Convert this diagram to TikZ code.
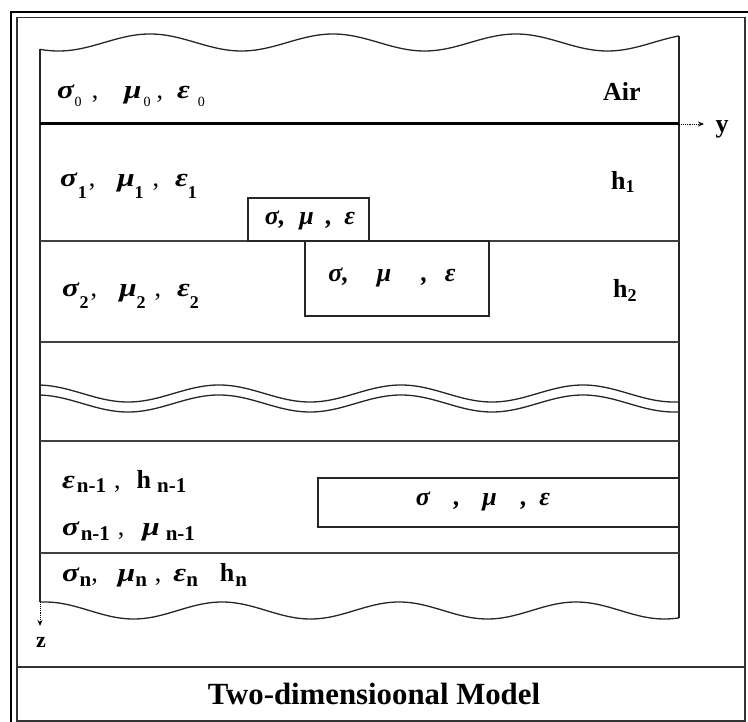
\documentclass[tikz,border=0pt]{standalone}
\usepackage{fontspec}
\usepackage{graphicx}
\setmainfont{Liberation Serif}
\usetikzlibrary{arrows.meta}
\newcommand{\gk}[1]{\scalebox{1.2}[1]{\textbf{\textit{#1}}}}
\newcommand{\sbs}[2][6pt]{\raisebox{-#1}{\fontsize{18}{20}\selectfont\bfseries #2}}
\newcommand{\sbz}[1]{\raisebox{-8pt}{\fontsize{14}{16}\selectfont #1}}
\newcommand{\sbn}[1]{\raisebox{-5pt}{\fontsize{21}{24}\selectfont\bfseries #1}}
\tikzset{
  lbl/.style={inner sep=0pt, anchor=base west, font=\fontsize{26}{30}\selectfont},
  rlbl/.style={inner sep=0pt, anchor=base west, font=\bfseries\fontsize{26}{30}\selectfont},
  boxtxt/.style={inner sep=0pt, font=\bfseries\itshape\fontsize{26}{30}\selectfont},
  layer/.style={line width=1.5pt, black!75},
  wave/.style={line width=1.3pt, black!85},
  incl/.style={draw=black!85, line width=1.6pt},
  axis/.style={densely dotted, line width=0.9pt, -{Stealth[length=6pt,width=5pt]}},
}
\pgfmathdeclarefunction{fw}{1}{\pgfmathparse{1.2*cos(#1)/(abs(cos(#1))+0.2)*0+cos(#1)}}
\begin{document}
\begin{tikzpicture}[x=1pt,y=-1pt]
\useasboundingbox (0,0) rectangle (748,722);
% frame
\draw[line width=2.6pt] (11,12) rectangle (762,738);
\draw[line width=1.3pt, black!80] (17,17.5) rectangle (745,721);
\draw[line width=1.3pt, black!80] (17,667) -- (745,667);
\node[font=\bfseries\fontsize{30.8}{36}\selectfont, inner sep=0pt] (cap) at (374,694) {Two-dimensioonal Model};
% model outline
\draw[wave] plot[domain=40:679, samples=300] (\x, {42.5-8.5*cos((\x-150)/183*360)});
\draw[wave] (40,49.4) -- (40,602.1);
\draw[wave] (679,35.9) -- (679,617.9);
\draw[wave] plot[domain=40:679, samples=300] (\x, {610.5-8.5*cos((\x-222)/177*360)});
% interfaces
\coordinate (yo) at (679,124);
\draw[line width=3pt] (40,124) -- (yo);
\draw[layer] (40,241) -- (679,241);
\draw[layer] (40,342) -- (679,342);
\draw[layer] (40,441) -- (679,441);
\draw[layer] (40,553) -- (679,553);
% double wave break
\draw[wave] plot[domain=40:679, samples=300] (\x, {393.5-8.5*cos((\x-219)/182*360)});
\draw[wave] plot[domain=40:679, samples=300] (\x, {403.5-8.5*cos((\x-219)/182*360)});
% inclusions
\draw[incl] (248,198) rectangle (369,241);
\node[boxtxt] (b1) at (310,220) {σ,\hspace{14pt}μ\hspace{12pt},\hspace{12pt}ε};
\draw[incl] (305,241) rectangle (489,316);
\node[boxtxt] (b2) at (392,277) {σ,\hspace{28pt}μ\hspace{30pt},\hspace{17pt}ε};
\draw[incl] (318,478) rectangle (679,527);
\node[boxtxt] (b3) at (483,501) {σ\hspace{24pt},\hspace{22pt}μ\hspace{24pt},\hspace{12pt}ε};
% labels
\node[lbl] (l0) at (57,99) {\gk{σ}\sbz{0}\hspace{10pt},\hspace{26pt}\gk{μ}\hspace{2pt}\sbz{0}\hspace{6pt},\hspace{14pt}\gk{ε}\hspace{8pt}\sbz{0}};
\node[rlbl] (air) at (603,101) {Air};
\node[lbl] (l1) at (60,187) {\gk{σ}\sbs[12pt]{1}\hspace{2pt},\hspace{22pt}\gk{μ}\sbs[12pt]{1}\hspace{9pt},\hspace{16pt}\gk{ε}\sbs[12pt]{1}};
\node[rlbl] (h1) at (611,190) {h\sbs[3pt]{1}};
\node[lbl] (l2) at (62,297) {\gk{σ}\sbs[12pt]{2}\hspace{2pt},\hspace{22pt}\gk{μ}\sbs[12pt]{2}\hspace{9pt},\hspace{16pt}\gk{ε}\sbs[12pt]{2}};
\node[rlbl] (h2) at (613,298) {h\sbs[4pt]{2}};
\node[lbl] (l3) at (62,488) {\gk{ε}\hspace{2pt}\sbn{n-1}\hspace{8pt},\hspace{16pt}\textbf{h}\hspace{6pt}\sbn{n-1}};
\node[lbl] (l4) at (62,535) {\gk{σ}\hspace{1pt}\sbn{n-1}\hspace{8pt},\hspace{18pt}\gk{μ}\hspace{6pt}\sbn{n-1}};
\node[lbl] (l5) at (62,581) {\gk{σ}\sbn{n},\hspace{20pt}\gk{μ}\sbn{n}\hspace{8pt},\hspace{12pt}\gk{ε}\sbn{n}\hspace{22pt}\textbf{h}\hspace{1pt}\sbn{n}};
% axes
\coordinate (ye) at (704,124);
\draw[axis] (yo) -- (ye);
\node[rlbl, anchor=base] (ylab) at (722,133) {y};
\coordinate (zo) at (40,602);
\coordinate (ze) at (40,626);
\draw[axis] (zo) -- (ze);
\node[rlbl, anchor=base, font=\bfseries\fontsize{22}{26}\selectfont] (zlab) at (41,647) {z};
\end{tikzpicture}
\end{document}
